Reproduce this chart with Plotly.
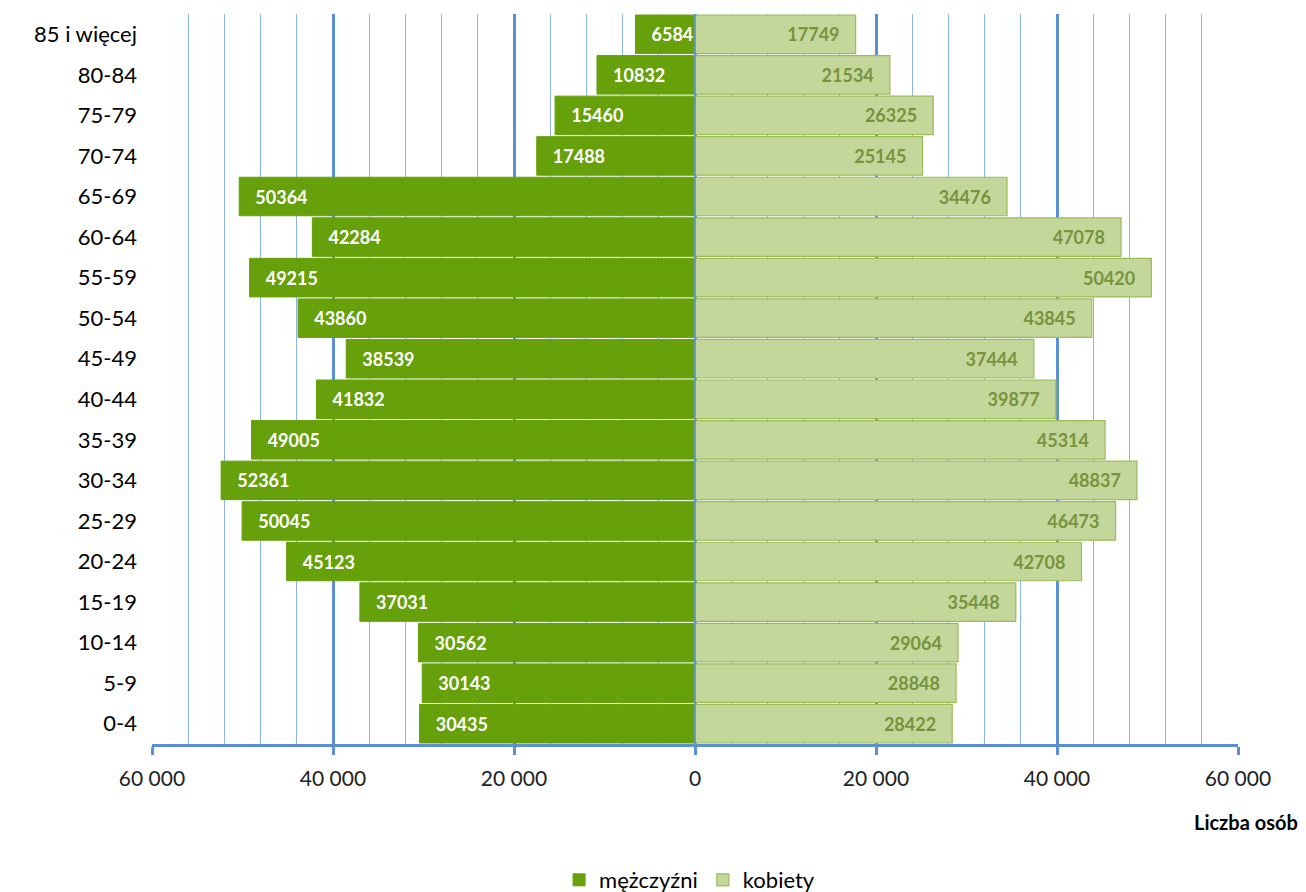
import plotly.graph_objects as go

categories = ["0-4", "5-9", "10-14", "15-19", "20-24", "25-29", "30-34", "35-39",
              "40-44", "45-49", "50-54", "55-59", "60-64", "65-69", "70-74", "75-79",
              "80-84", "85 i więcej"]
men = [30435, 30143, 30562, 37031, 45123, 50045, 52361, 49005, 41832, 38539,
       43860, 49215, 42284, 50364, 17488, 15460, 10832, 6584]
women = [28422, 28848, 29064, 35448, 42708, 46473, 48837, 45314, 39877, 37444,
         43845, 50420, 47078, 34476, 25145, 26325, 21534, 17749]
tick_vals = [-60000, -40000, -20000, 0, 20000, 40000, 60000]
tick_text = ["60 000", "40 000", "20 000", "0", "20 000", "40 000", "60 000"]

FONT = "Lato, Carlito, 'Open Sans', sans-serif"

W, H = 1298, 884
L, T = 144, 6
PW, PH = 1086, 730

fig = go.Figure()
fig.add_trace(go.Bar(
    y=categories, x=[-v for v in men], orientation="h", name="mężczyźni",
    marker=dict(color="#66A00A", line=dict(color="#66A00A", width=1)),
    text=men, texttemplate="   %{text}", textposition="inside", insidetextanchor="end",
    constraintext="none",
    textfont=dict(color="white", size=18, family=FONT, weight="bold"),
    hoverinfo="skip",
))
fig.add_trace(go.Bar(
    y=categories, x=women, orientation="h", name="kobiety",
    marker=dict(color="#C4D79B", line=dict(color="#9BBB59", width=1.2)),
    text=women, texttemplate="%{text}   ", textposition="inside", insidetextanchor="end",
    constraintext="none",
    textfont=dict(color="#77933C", size=18, family=FONT, weight="bold"),
    hoverinfo="skip",
))

fig.update_layout(
    width=W, height=H,
    margin=dict(l=L, r=W - L - PW, t=T, b=H - T - PH, autoexpand=False),
    paper_bgcolor="white", plot_bgcolor="white",
    barmode="relative", bargap=0.05,
    font=dict(family=FONT, color="#000"),
    showlegend=True,
    legend=dict(orientation="h", x=0.495, xanchor="center", y=(744 - 880) / 730, yanchor="middle",
                font=dict(size=22, family=FONT, color="#000"), traceorder="normal",
                itemwidth=30, tracegroupgap=0),
)
fig.update_xaxes(
    range=[-60000, 60000], tickvals=tick_vals, ticktext=tick_text,
    tickfont=dict(size=21, family=FONT, color="#222"),
    ticklabelstandoff=6,
    showgrid=True, gridcolor="#5B8FD6", gridwidth=3,
    zeroline=False,
    showline=True, linecolor="#5B8FD6", linewidth=3,
    ticks="outside", ticklen=8, tickwidth=3, tickcolor="#5B8FD6",
    minor=dict(dtick=4000, showgrid=True, gridcolor="#8DB3E6", gridwidth=1.2, ticks=""),
    fixedrange=True,
)
fig.update_yaxes(
    categoryorder="array", categoryarray=categories,
    tickfont=dict(size=22, family=FONT, color="#000"),
    ticklabelstandoff=14,
    showgrid=False, showline=False, ticks="", ticklen=0,
    fixedrange=True,
)
fig.add_shape(type="line", xref="x", yref="paper", x0=0, x1=0, y0=0, y1=1,
              line=dict(color="#5B8FD6", width=1.5), layer="above")
fig.add_annotation(text="<b>Liczba osób</b>", xref="paper", yref="paper",
                   x=(1300 - 152) / PW, y=(744 - 822) / PH,
                   xanchor="right", yanchor="middle", showarrow=False,
                   font=dict(size=20, family=FONT, color="#000"))

fig.write_html("out.html")
